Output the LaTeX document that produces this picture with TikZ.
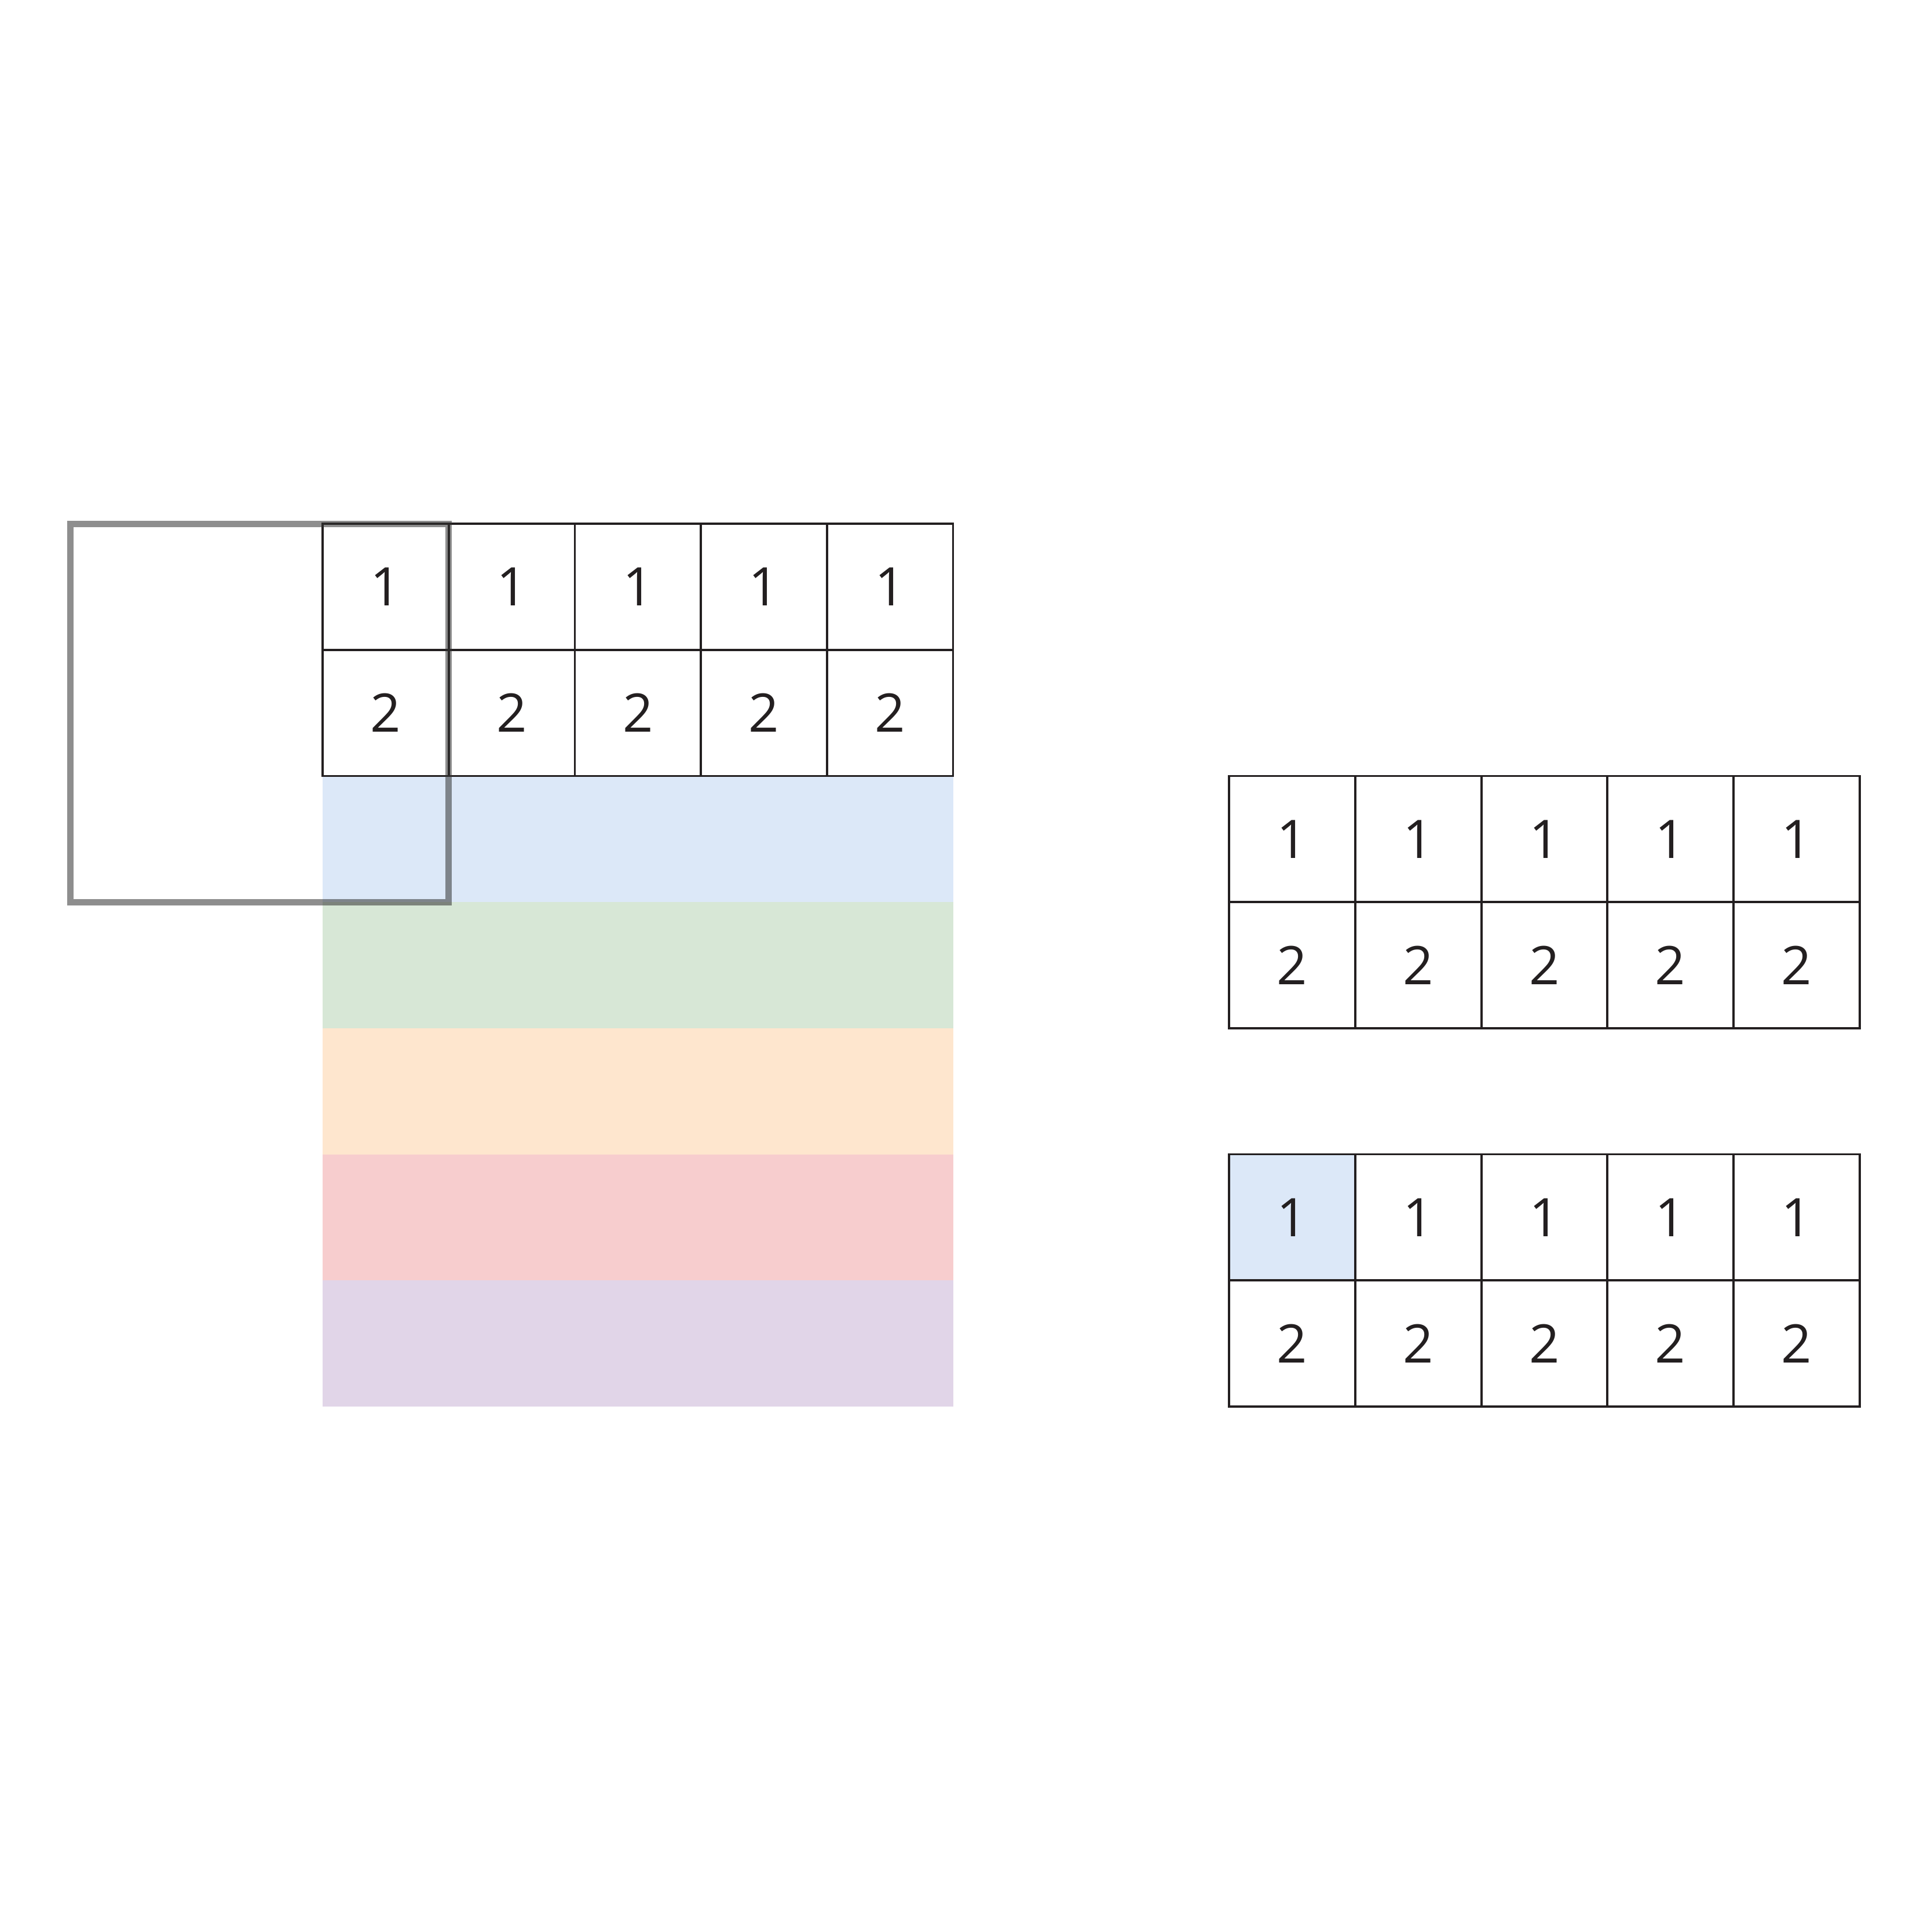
\documentclass[tikz,border=0pt]{standalone}
\usepackage{fontspec}
\setmainfont{Open Sans}
\definecolor{ink}{RGB}{35,31,32}
\definecolor{bandblue}{RGB}{220,232,248}
\definecolor{bandgreen}{RGB}{215,231,214}
\definecolor{bandorange}{RGB}{254,230,206}
\definecolor{bandred}{RGB}{247,205,206}
\definecolor{bandpurple}{RGB}{225,213,232}
\definecolor{window}{RGB}{50,50,50}
\begin{document}
\begin{tikzpicture}[
  cell/.style={draw=ink, text=ink, line width=0.5pt, minimum size=1cm,
    inner sep=0pt, font=\fontsize{12}{14}\selectfont},
  frame/.style={draw=window, line width=1.45pt, opacity=0.55}]
\useasboundingbox (-2.559,-11.167) rectangle (12.755,4.153);
% Bands below the left grid
\fill[bandblue] (0,-2) rectangle (5,-3);
\fill[bandgreen] (0,-3) rectangle (5,-4);
\fill[bandorange] (0,-4) rectangle (5,-5);
\fill[bandred] (0,-5) rectangle (5,-6);
\fill[bandpurple] (0,-6) rectangle (5,-7);
% Left grid
\foreach \c in {1,...,5} {
  \node[cell] (L1\c) at (\c-0.5,-0.5) {1};
  \node[cell] (L2\c) at (\c-0.5,-1.5) {2};
}
% Right grids
\foreach \c in {1,...,5} {
  \node[cell] (A1\c) at (6.69+\c,-2.5) {1};
  \node[cell] (A2\c) at (6.69+\c,-3.5) {2};
  \node[cell] (B1\c) at (6.69+\c,-5.5) {1};
  \node[cell] (B2\c) at (6.69+\c,-6.5) {2};
}
\node[cell, fill=bandblue] at (B11) {1};
% Window
\draw[frame] (-2,0) rectangle (1,-3);
\end{tikzpicture}
\end{document}
